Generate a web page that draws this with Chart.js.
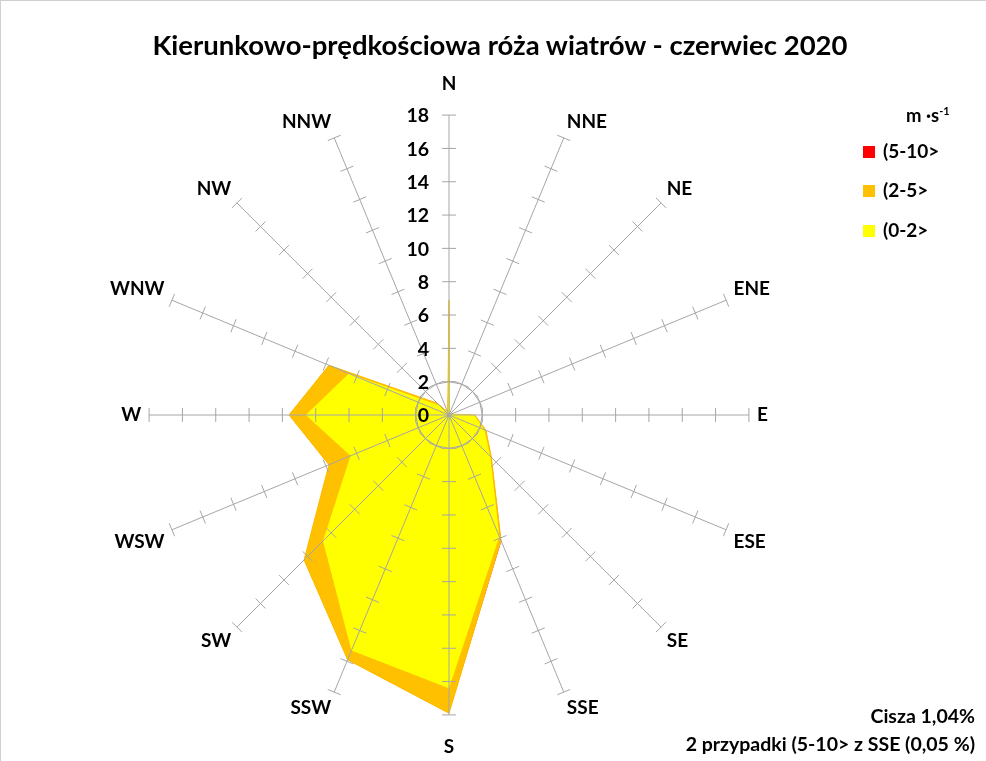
<!DOCTYPE html>
<html><head><meta charset="utf-8">
<script src="https://cdn.jsdelivr.net/npm/chart.js@4.4.1/dist/chart.umd.min.js"></script>
<style>
html,body{margin:0;padding:0;background:#fff;}
#wrap{position:relative;width:986px;height:761px;overflow:hidden;font-family:Lato,'Open Sans',sans-serif;font-weight:bold;color:#000;box-sizing:border-box;border-top:1px solid #d0d0d0;border-left:1px solid #d0d0d0;}
#wrap canvas{position:absolute;left:0;top:0;}
.t{position:absolute;white-space:nowrap;line-height:1;}
#title{left:0;width:998px;top:30px;text-align:center;font-size:27.5px;}
#lgHead{left:905px;top:104px;font-size:18.5px;}
#lgHead sup{font-size:11px;vertical-align:7px;}
.sw{position:absolute;width:12px;height:12px;}
.lt{font-size:19px;}
.note{right:11px;font-size:19.5px;text-align:right;}
</style>
</head><body>
<div id="wrap">
<canvas id="c" width="986" height="761"></canvas>
<div class="t" id="title">Kierunkowo-prędkościowa róża wiatrów - czerwiec 2020</div>
<div class="t" id="lgHead">m ·s<sup>-1</sup></div>
<div id="legend"></div>
<div class="t note" id="note1" style="top:705px">Cisza 1,04%</div>
<div class="t note" id="note2" style="top:733px">2 przypadki (5-10&gt; z SSE (0,05 %)</div>
</div>
<script>
// ---- data (percent of observations per direction and speed class) ----
const directions = ['N','NNE','NE','ENE','E','ESE','SE','SSE','S','SSW','SW','WSW','W','WNW','NW','NNW'];
const band0to2  = [6.8, 0.1, 0.1, 0.1, 1.5, 2.3, 3.5, 7.9, 16.4, 15.3, 10.7, 6.4, 8.6, 6.5, 0.8, 0.15];
const band2to5  = [0.1, 0.0, 0.0, 0.05, 0.05, 0.1, 0.1, 0.25, 1.5, 0.6, 1.6, 1.4, 1.0, 1.3, 0.2, 0.05];
const band5to10 = [0, 0, 0, 0, 0, 0, 0, 0.05, 0, 0, 0, 0, 0, 0, 0, 0];
const bandNames = ['(0-2>', '(2-5>', '(5-10>'];
const bandColors = ['#FFFF00', '#FFC000', '#FF0000'];
const tickValues = [0, 2, 4, 6, 8, 10, 12, 14, 16, 18];

// cumulative radii (stacked rose)
const cum1 = band0to2.slice();
const cum2 = cum1.map((v, i) => v + band2to5[i]);
const cum3 = cum2.map((v, i) => v + band5to10[i]);

// HTML legend (reverse order like the original)
const lg = document.getElementById('legend');
const lgTops = [140, 179, 219];
[2, 1, 0].forEach((b, k) => {
  const s = document.createElement('div');
  s.className = 'sw';
  s.style.left = '862px'; s.style.top = (lgTops[k] + 5) + 'px'; s.style.background = bandColors[b];
  lg.appendChild(s);
  const t = document.createElement('div');
  t.className = 't lt';
  t.style.left = '882px'; t.style.top = lgTops[k] + 'px';
  t.textContent = bandNames[b];
  lg.appendChild(t);
});

const GRID = '#A6A6A6';
const roseExtras = {
  id: 'roseExtras',
  afterDraw(chart) {
    const sc = chart.scales.r;
    const ctx = chart.ctx;
    ctx.save();
    // tick marks across every spoke
    ctx.strokeStyle = GRID; ctx.lineWidth = 1;
    const n = directions.length;
    for (let i = 0; i < n; i++) {
      const a = sc.getIndexAngle(i) - Math.PI / 2;
      const px = -Math.sin(a), py = Math.cos(a);
      tickValues.forEach(v => {
        if (v === 0) return;
        const p = sc.getPointPositionForValue(i, v);
        ctx.beginPath();
        ctx.moveTo(p.x - 7 * px, p.y - 7 * py);
        ctx.lineTo(p.x + 7 * px, p.y + 7 * py);
        ctx.stroke();
      });
    }
    // tick labels left of the N spoke
    ctx.fillStyle = '#000';
    ctx.font = 'bold 19.5px Lato, "Open Sans", sans-serif';
    ctx.textAlign = 'right'; ctx.textBaseline = 'middle';
    tickValues.forEach(v => {
      const p = sc.getPointPositionForValue(0, v);
      ctx.fillText(String(v), p.x - 20, p.y + 1);
    });
    ctx.restore();
  }
};

new Chart(document.getElementById('c'), {
  type: 'radar',
  data: {
    labels: directions,
    datasets: [
      { label: bandNames[0], data: cum1, backgroundColor: bandColors[0], borderColor: bandColors[0], borderWidth: 0, fill: 'origin', pointRadius: 0 },
      { label: bandNames[1], data: cum2, backgroundColor: bandColors[1], borderColor: bandColors[1], borderWidth: 1, fill: 'origin', pointRadius: 0 },
      { label: bandNames[2], data: cum3, backgroundColor: bandColors[2], borderColor: bandColors[2], borderWidth: 0, fill: 'origin', pointRadius: 0 }
    ]
  },
  options: {
    responsive: false,
    animation: false,
    devicePixelRatio: 1,
    layout: { padding: { top: 75, bottom: 6, left: 28, right: 118 } },
    elements: { line: { tension: 0 } },
    plugins: { legend: { display: false }, tooltip: { enabled: false }, title: { display: false } },
    scales: {
      r: {
        z: 1,
        min: 0, max: 18,
        ticks: { display: false, stepSize: 2, z: 1 },
        grid: { z: 1, circular: false, color: c => (c.tick && c.tick.value === 2) ? GRID : 'rgba(0,0,0,0)', lineWidth: 1 },
        angleLines: { color: GRID, lineWidth: 1 },
        pointLabels: {
          color: '#000',
          font: { family: 'Lato, "Open Sans", sans-serif', size: 19, weight: 'bold', lineHeight: 0.9 },
          padding: c => (c.index % 8 === 0) ? 23 : 8
        }
      }
    }
  },
  plugins: [roseExtras]
});
</script>
</body></html>
